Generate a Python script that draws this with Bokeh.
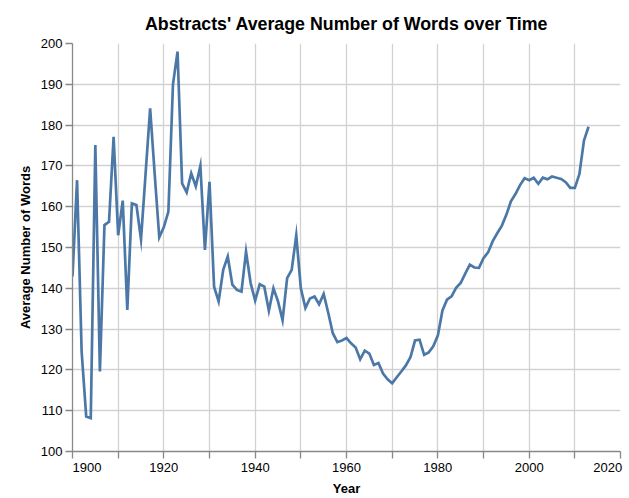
from bokeh.plotting import figure
from bokeh.models import Range1d, FixedTicker
from bokeh.embed import file_html
from bokeh.resources import INLINE

# ---- data ----
years = list(range(1900, 2014))
avg_words = [
    142.9, 166.5, 124.5, 108.6, 108.2, 175.1, 119.6, 155.5, 156.3, 177.1,   # 1900-1909
    153.0, 161.5, 134.7, 160.8, 160.4, 152.0, 168.0, 184.1, 168.0, 152.5,   # 1910-1919
    155.0, 158.8, 190.0, 198.0, 165.7, 163.5, 168.2, 165.0, 170.0, 149.4,   # 1920-1929
    166.1, 140.4, 136.8, 144.5, 147.8, 140.9, 139.6, 139.2, 149.0, 141.3,   # 1930-1939
    137.0, 141.0, 140.4, 134.5, 140.0, 136.8, 132.2, 142.5, 144.5, 153.0,   # 1940-1949
    140.0, 135.2, 137.5, 138.0, 136.1, 138.6, 134.0, 129.0, 126.8, 127.2,   # 1950-1959
    127.8, 126.5, 125.5, 122.6, 124.7, 124.0, 121.2, 121.7, 119.1, 117.7,   # 1960-1969
    116.7, 118.2, 119.6, 121.1, 123.1, 127.2, 127.4, 123.7, 124.3, 125.8,   # 1970-1979
    128.4, 134.5, 137.2, 138.0, 140.1, 141.3, 143.6, 145.8, 145.1, 145.0,   # 1980-1989
    147.4, 148.8, 151.5, 153.5, 155.3, 158.0, 161.3, 163.1, 165.3, 167.0,   # 1990-1999
    166.5, 167.1, 165.6, 167.1, 166.7, 167.4, 167.1, 166.8, 166.0, 164.6,   # 2000-2009
    164.6, 168.0, 176.2, 179.6,                                             # 2010-2013
]
x_ticks = list(range(1900, 2021, 10))
x_tick_labels = ["1900", "", "1920", "", "1940", "", "1960", "", "1980", "", "2000", "", "2020"]
y_ticks = list(range(100, 201, 10))

title_text = "Abstracts' Average Number of Words over Time"
x_title = "Year"
y_title = "Average Number of Words"

FONT = "Liberation Sans"
LINE_COLOR = "#4c78a8"
GRID_COLOR = "#d2d2d2"
AXIS_COLOR = "#888888"
PAD_FIRST = "\u00a0" * 8   # pads first label so it sits flush-left on its tick
PAD_LAST = "\u00a0" * 2    # last label is pushed inside the canvas; small pad keeps it flush-right

p = figure(width=629, height=498, output_backend="svg", toolbar_location=None,
           x_range=Range1d(1900, 2020), y_range=Range1d(100, 200),
           min_border_left=72, min_border_right=9, min_border_top=43, min_border_bottom=46)

p.title.text = title_text
p.title.align = "center"
p.title.text_font = FONT
p.title.text_font_size = "17.8px"
p.title.text_font_style = "bold"
p.title.text_color = "#000000"
p.title.standoff = 19

p.outline_line_color = None

p.line(years, avg_words, line_color=LINE_COLOR, line_width=2.7, line_join="miter")

# axes
for ax in (p.xaxis[0], p.yaxis[0]):
    ax.axis_line_color = AXIS_COLOR
    ax.axis_line_width = 1.3
    ax.major_tick_line_color = AXIS_COLOR
    ax.major_tick_line_width = 1.3
    ax.major_tick_out = 7
    ax.major_tick_in = 0
    ax.minor_tick_line_color = None
    ax.major_label_text_font = FONT
    ax.major_label_text_font_size = "13px"
    ax.major_label_text_color = "#000000"
    ax.axis_label_text_font = FONT
    ax.axis_label_text_font_size = "13px"
    ax.axis_label_text_font_style = "bold"
    ax.axis_label_text_color = "#000000"

p.xaxis.ticker = FixedTicker(ticks=x_ticks)
overrides = {}
for t, lab in zip(x_ticks, x_tick_labels):
    if t == x_ticks[0] and lab:
        lab = PAD_FIRST + lab
    elif t == x_ticks[-1] and lab:
        lab = lab + PAD_LAST
    overrides[t] = lab
p.xaxis.major_label_overrides = overrides
p.xaxis.major_label_standoff = 1
p.xaxis.axis_label = x_title
p.xaxis.axis_label_standoff = 3

p.yaxis.ticker = FixedTicker(ticks=y_ticks)
p.yaxis.major_label_standoff = 3
p.yaxis.axis_label = y_title
p.yaxis.axis_label_standoff = 5

p.xgrid.ticker = FixedTicker(ticks=x_ticks)
p.ygrid.ticker = FixedTicker(ticks=y_ticks)
p.grid.grid_line_color = GRID_COLOR
p.grid.grid_line_width = 1.3

open("out.html", "w").write(file_html(p, INLINE))
